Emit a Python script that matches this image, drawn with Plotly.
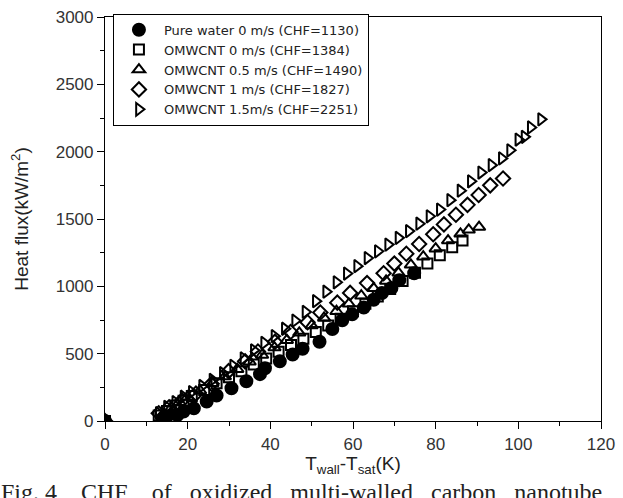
import plotly.graph_objects as go

# ---- data ----
water_x = [0, 14, 15, 17.5, 19, 21.5, 24.6, 27, 30.6, 34.2, 37.5, 38.7, 42.3, 45.4, 47.8, 51.9, 55, 57.4, 59.8, 62.6, 65, 67, 69.3, 71.2, 74.8]
water_y = [0, 20, 35, 44, 70, 94, 145, 189, 243, 295, 348, 392, 443, 494, 537, 588, 683, 748, 792, 842, 900, 951, 988, 1046, 1097]

om0_x = [0, 13, 15, 17, 19, 21, 24, 27, 30, 33, 36, 39, 42, 45, 48, 51, 54, 57, 60, 63, 66, 69, 72, 75, 78, 81, 84, 86.5]
om0_y = [0, 40, 75, 115, 150, 185, 230, 280, 325, 370, 420, 465, 515, 565, 610, 660, 710, 760, 815, 870, 925, 980, 1040, 1100, 1170, 1230, 1290, 1340]

om05_x = [0, 14, 16, 18, 20, 23, 26, 29, 32, 35, 38, 41, 44, 47, 50, 53, 56, 59, 62, 65, 68, 71, 74, 77, 80, 83, 86, 88, 90.5]
om05_y = [0, 50, 95, 140, 180, 225, 280, 330, 385, 440, 490, 545, 600, 655, 710, 765, 815, 870, 930, 985, 1040, 1100, 1160, 1220, 1280, 1340, 1390, 1420, 1440]

om1_x = [0, 13, 15.5, 18.6, 22, 25.8, 29.9, 33.9, 37, 41.1, 44.9, 49, 52.1, 56.2, 59.3, 63.4, 67.4, 70, 72.9, 76, 79.4, 82, 84.9, 87.7, 90.4, 93.2, 96.3]
om1_y = [0, 58, 102, 152, 203, 276, 370, 443, 516, 588, 661, 733, 806, 879, 951, 1024, 1097, 1169, 1242, 1314, 1387, 1460, 1532, 1605, 1678, 1750, 1801]

om15_x = [0, 13, 15, 17, 19, 21, 23.5, 26, 28.5, 31, 33.5, 36, 38.5, 41, 43.5, 46, 48.5, 51, 53.5, 56, 58.5, 61, 63.5, 66, 68.5, 71, 73.5, 76, 78.5, 81, 83.5, 86, 88.5, 91, 93.5, 96, 98, 100, 101.5, 103, 105.5]
om15_y = [0, 58, 105, 140, 180, 215, 260, 305, 355, 410, 465, 525, 580, 630, 685, 745, 810, 890, 960, 1030, 1095, 1150, 1210, 1260, 1310, 1360, 1410, 1465, 1520, 1570, 1640, 1710, 1780, 1845, 1900, 1950, 2010, 2090, 2110, 2180, 2240]

names = ["Pure water 0 m/s (CHF=1130)", "OMWCNT 0 m/s (CHF=1384)", "OMWCNT 0.5 m/s (CHF=1490)",
         "OMWCNT 1 m/s (CHF=1827)", "OMWCNT 1.5m/s (CHF=2251)"]

x_ticks = [0, 20, 40, 60, 80, 100, 120]
y_ticks = [0, 500, 1000, 1500, 2000, 2500, 3000]

fig = go.Figure()
series = [
    (water_x, water_y, "circle", 12),
    (om0_x, om0_y, "square-open", 10),
    (om05_x, om05_y, "triangle-up-open", 11),
    (om1_x, om1_y, "diamond-open", 11),
    (om15_x, om15_y, "triangle-right-open", 11),
]
for (xs, ys, sym, sz), nm in zip(series, names):
    fig.add_trace(go.Scatter(
        x=xs, y=ys, mode="markers", name=nm,
        marker=dict(symbol=sym, size=sz, color="black",
                    line=dict(color="black", width=2)),
    ))

axis_common = dict(
    showgrid=False, zeroline=False, showline=True, linecolor="black", linewidth=1.2,
    mirror=True, ticks="outside", ticklen=7, tickwidth=1, tickcolor="black",
    ticklabeloverflow="allow",
    tickfont=dict(family="Liberation Sans, Arial, sans-serif", size=17, color="#333333"),
    minor=dict(ticks="outside", ticklen=4, tickwidth=1, tickcolor="black"),
)

fig.update_layout(
    width=623, height=498,
    margin=dict(l=105, r=16, t=8, b=77),
    paper_bgcolor="white", plot_bgcolor="white",
    font=dict(family="Liberation Sans, Arial, sans-serif", color="black"),
    xaxis=dict(range=[0, 120], tickvals=x_ticks, minor_dtick=10,
               title=dict(text="T<sub>wall</sub>-T<sub>sat</sub>(K)",
                          font=dict(size=19, color="#222222"), standoff=4),
               **axis_common),
    yaxis=dict(range=[0, 3000], tickvals=y_ticks, minor_dtick=250,
               title=dict(text="Heat flux(kW/m<sup>2</sup>)",
                          font=dict(size=19, color="#222222"), standoff=22),
               **axis_common),
    legend=dict(x=0.016, y=1.008, xanchor="left", yanchor="top",
                bgcolor="white", bordercolor="black", borderwidth=1,
                font=dict(family="DejaVu Sans, sans-serif", size=13, color="#222222"),
                itemwidth=40, tracegroupgap=0),
    showlegend=True,
)

fig.add_annotation(
    text="Fig. 4    CHF    of   oxidized   multi-walled   carbon   nanotube",
    xref="paper", yref="paper", x=-0.213, y=-0.138, xanchor="left", yanchor="top",
    showarrow=False, font=dict(family="Liberation Serif, Times New Roman, serif", size=24, color="#222222"),
)

fig.write_html("out.html")
